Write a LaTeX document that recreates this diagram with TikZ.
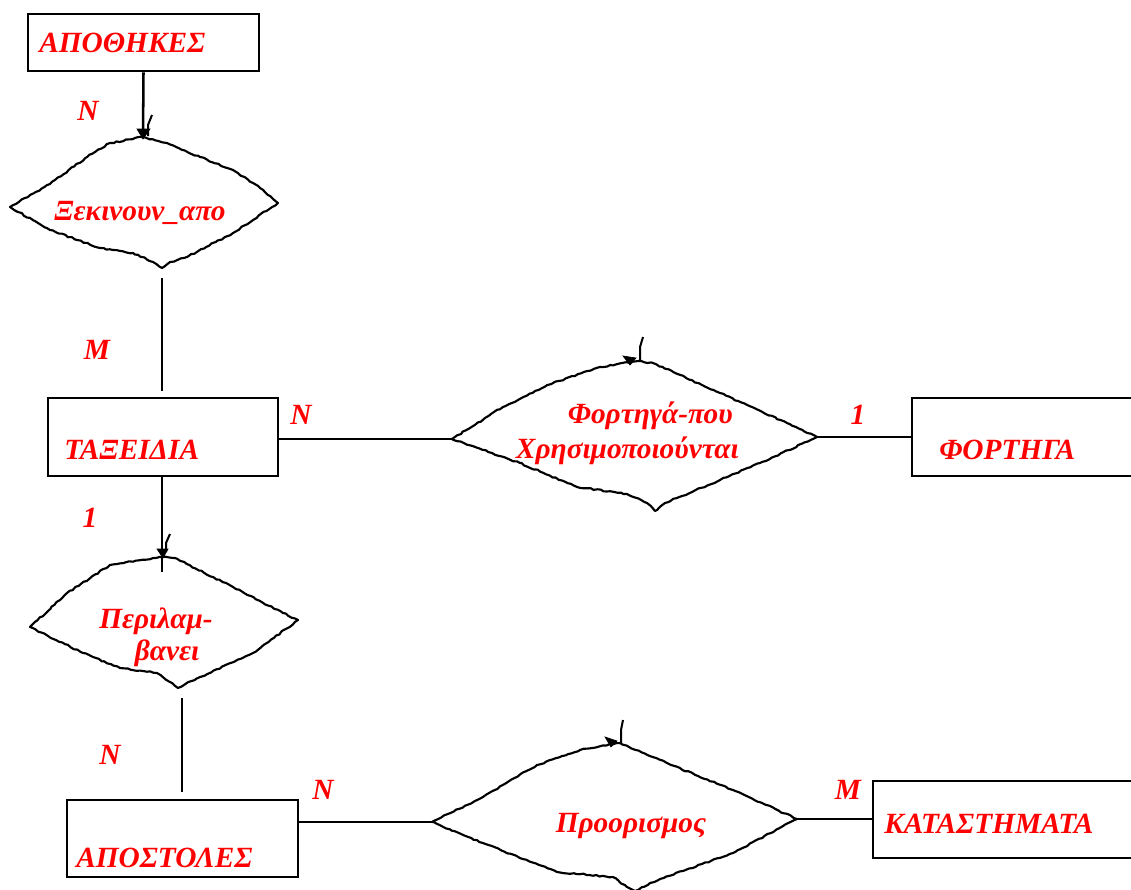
\documentclass[tikz,border=0pt]{standalone}
\usepackage{fontspec}
\setmainfont{Liberation Serif}[BoldItalicFont={* Bold Italic}]
\usetikzlibrary{decorations.pathmorphing,calc}
\begin{document}
\begin{tikzpicture}[x=0.75pt,y=-0.75pt,
  box/.style={draw, line width=1.9pt, rectangle, inner sep=0pt},
  lbl/.style={text=red, font=\fontsize{22}{27}\selectfont\bfseries\itshape, inner sep=0pt},
  conn/.style={line width=1.9pt},
  dia/.style={line width=1.6pt, line join=round, decorate,
    decoration={random steps, segment length=2.5pt, amplitude=0.55pt}},
  tipfill/.style={fill=black, draw=black, line width=0.5pt, line join=miter},
  stub/.style={line width=1.5pt, line join=miter}]
\useasboundingbox (0,0) rectangle (1131,889);
\pgfmathsetseed{7}

% entity boxes
\node[box, minimum width=231*0.75pt, minimum height=57*0.75pt] (apoth) at (143.5,42.5) {};
\node[box, minimum width=230*0.75pt, minimum height=78*0.75pt] (taxid) at (163,437) {};
\node[box, minimum width=240*0.75pt, minimum height=78*0.75pt] (fort) at (1032,437) {};
\node[box, minimum width=231*0.75pt, minimum height=77*0.75pt] (apost) at (182.5,838.5) {};
\node[box, minimum width=280*0.75pt, minimum height=77*0.75pt] (katas) at (1013,819.5) {};

\node[lbl, anchor=base west] (tapoth) at (39,52) {ΑΠΟΘΗΚΕΣ};
\node[lbl, anchor=base west] (ttaxid) at (64,459) {ΤΑΞΕΙΔΙΑ};
\node[lbl, anchor=base west] (tfort) at (939,459) {ΦΟΡΤΗΓΑ};
\node[lbl, anchor=base west] (tapost) at (76,867) {ΑΠΟΣΤΟΛΕΣ};
\node[lbl, anchor=base west] (tkatas) at (884,833) {ΚΑΤΑΣΤΗΜΑΤΑ};

% relationship diamonds: key points
\coordinate (d1W) at (10,207);  \coordinate (d1N) at (143,137);
\coordinate (d1E) at (278,203); \coordinate (d1S) at (162,268);
\coordinate (d2W) at (452,439); \coordinate (d2N) at (638,361);
\coordinate (d2E) at (817,437); \coordinate (d2S) at (655,511);
\coordinate (d3W) at (30,627);  \coordinate (d3N) at (162,557);
\coordinate (d3E) at (298,620); \coordinate (d3S) at (178,688);
\coordinate (d4W) at (432,822); \coordinate (d4N) at (620,743);
\coordinate (d4E) at (797,819); \coordinate (d4S) at (635,891);

\draw[dia] (d1W) -- (50,184) -- (87,157) -- (110,143) -- (d1N) -- (167,143) -- (200,157)
  -- (233,170) -- (260,188) -- (d1E) -- (233,233) -- (187,257) -- (170,262) -- (d1S)
  -- (153,262) -- (133,253) -- (100,248) -- (50,230) -- cycle;
\draw[dia] (d2W) -- (503,407) -- (553,383) -- (600,367) -- (d2N) -- (653,363) -- (720,393)
  -- (787,423) -- (d2E) -- (760,463) -- (720,480) -- (665,503) -- (d2S) -- (647,503)
  -- (627,494) -- (577,487) -- (520,463) -- cycle;
\draw[dia] (d3W) -- (67,593) -- (110,565) -- (d3N) -- (175,558) -- (233,587) -- (283,613)
  -- (d3E) -- (253,653) -- (200,677) -- (d3S) -- (172,683) -- (157,673) -- (120,668)
  -- (83,653) -- cycle;
\draw[dia] (d4W) -- (483,797) -- (537,765) -- (580,750) -- (d4N) -- (667,763) -- (733,790)
  -- (d4E) -- (733,853) -- (650,883) -- (d4S) -- (627,887) -- (613,877) -- (557,872)
  -- (483,843) -- cycle;

\node[lbl, anchor=base] (r1) at (140,220) {Ξεκινουν\_απο};
\node[lbl, anchor=base east] (r2a) at (733,423) {Φορτηγά-που};
\node[lbl, anchor=base east] (r2b) at (739,458) {Χρησιμοποιούνται};
\node[lbl, anchor=base] (r3a) at (156,628) {Περιλαμ-};
\node[lbl, anchor=base] (r3b) at (167,660) {βανει};
\node[lbl, anchor=base] (r4) at (631,832) {Προορισμος};

% connectors
\draw[conn] (apoth.south) -- (d1N);
\draw[conn, shorten <=10*0.75pt, shorten >=6*0.75pt] (d1S) -- (d1S |- taxid.north);
\draw[conn] (taxid.east |- d2W) -- (d2W);
\draw[conn] (d2E) -- (d2E -| fort.west);
\draw[conn, shorten >=-15*0.75pt] (d3N |- taxid.south) -- (d3N);
\draw[conn, shorten <=10*0.75pt, shorten >=7*0.75pt] (d3S) ++(4,0) coordinate (d3Sx) -- (d3Sx |- apost.north);
\draw[conn] (apost.east |- d4W) -- (d4W);
\draw[conn] (d4E) -- (d4E -| katas.west);

% arrowheads and stubs at relationship tops
\filldraw[tipfill] ($(d1N)+(-6,-8)$) -- ($(d1N)+(7,-8)$) -- ($(d1N)+(0,2)$) -- cycle;
\draw[stub] ($(d1N)+(5,-1)$) -- ($(d1N)+(5,-12)$) -- ($(d1N)+(9,-22)$);
\filldraw[tipfill] ($(d3N)+(-5,-8)$) -- ($(d3N)+(6,-8)$) -- ($(d3N)+(1,1)$) -- cycle;
\draw[stub] ($(d3N)+(4,-5)$) -- ($(d3N)+(4,-14)$) -- ($(d3N)+(8,-23)$);
\filldraw[tipfill] ($(d2N)+(-15,-5)$) -- ($(d2N)+(-2,-3)$) -- ($(d2N)+(-8,4)$) -- cycle;
\draw[stub] ($(d2N)+(2,1)$) -- ($(d2N)+(2,-14)$) -- ($(d2N)+(5,-24)$);
\filldraw[tipfill] ($(d4N)+(-15,-6)$) -- ($(d4N)+(-3,-2)$) -- ($(d4N)+(-9,4)$) -- cycle;
\draw[stub] ($(d4N)+(1,0)$) -- ($(d4N)+(1,-13)$) -- ($(d4N)+(3,-23)$);

% cardinalities
\node[lbl] (c1) at (88,111) {N};
\node[lbl] (c2) at (97,350) {M};
\node[lbl] (c3) at (301,415) {N};
\node[lbl] (c4) at (858,415) {1};
\node[lbl] (c5) at (90,518) {1};
\node[lbl] (c6) at (110,755) {N};
\node[lbl] (c7) at (323,790) {N};
\node[lbl] (c8) at (848,790) {M};
\end{tikzpicture}
\end{document}
